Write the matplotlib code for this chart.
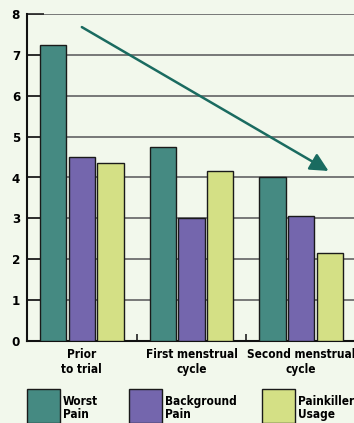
import matplotlib
matplotlib.use("Agg")
import matplotlib.pyplot as plt
import numpy as np

categories = ["Prior\nto trial", "First menstrual\ncycle", "Second menstrual\ncycle"]
series_names = ["Worst\nPain", "Background\nPain", "Painkiller\nUsage"]
worst_pain = [7.25, 4.75, 4.0]
background_pain = [4.5, 3.0, 3.05]
painkiller_usage = [4.35, 4.15, 2.15]
y_ticks = [0, 1, 2, 3, 4, 5, 6, 7, 8]

colors = ["#458a82", "#7466ad", "#d4e085"]
bg = "#f2f8ec"
plt.rcParams["font.family"] = ["DejaVu Sans"]
plt.rcParams["font.stretch"] = "condensed"
txt = dict(fontweight="bold", fontstretch="condensed")

fig = plt.figure(figsize=(3.54, 4.23), dpi=100, facecolor=bg)
W, H = 354, 423
# axes: left spine x=27, right edge at figure edge, top y=14, bottom y=341
ax = fig.add_axes([27 / W, 1 - 341 / H, (356 - 27) / W, (341 - 14) / H])
ax.set_facecolor(bg)

x = np.arange(len(categories))
step = 0.262
width = 0.24
for i, vals in enumerate([worst_pain, background_pain, painkiller_usage]):
    ax.bar(x + (i - 1) * step, vals, width, color=colors[i],
           edgecolor="#1a1a1a", linewidth=1.0, zorder=3)

ax.set_xlim(-0.5, 2.5)
ax.set_ylim(0, 8)
ax.set_yticks(y_ticks)
ax.set_yticklabels([str(t) for t in y_ticks], fontsize=9.5, **txt)
ax.yaxis.grid(True, color="#6e6e6e", linewidth=1.3, zorder=1)
ax.tick_params(axis="y", direction="in", length=12, width=1.2, color="#222222",
               pad=5)
ax.set_xticks([0.5, 1.5])
ax.set_xticklabels([])
ax.tick_params(axis="x", direction="in", length=5, width=1.2, color="#222222")
for s in ["top", "right"]:
    ax.spines[s].set_visible(False)
for s in ["left", "bottom"]:
    ax.spines[s].set_linewidth(1.5)
    ax.spines[s].set_color("#111111")

for xi, lab in zip(x, categories):
    ax.text(xi, -0.18, lab, ha="center", va="top", fontsize=8.5,
            linespacing=1.15, transform=ax.transData, **txt)

# trend arrow
ax.annotate("", xy=(2.25, 4.16), xytext=(0.0, 7.68),
            arrowprops=dict(arrowstyle="-|>,head_length=1.1,head_width=0.55",
                            color="#1a6b60", lw=1.8, shrinkA=0, shrinkB=0),
            zorder=5)

# legend
legend_boxes = [27, 129, 262]
for bx, name, c in zip(legend_boxes, series_names, colors):
    fig.patches.append(plt.Rectangle((bx / W, 1 - 423 / H), 33 / W, 34 / H,
                                     transform=fig.transFigure, facecolor=c,
                                     edgecolor="#1a1a1a", linewidth=1.0))
    fig.text((bx + 36) / W, 1 - 408 / H, name, ha="left", va="center",
             fontsize=8.5, linespacing=1.05, **txt)

fig.savefig("out.png", dpi=100, facecolor=bg)
